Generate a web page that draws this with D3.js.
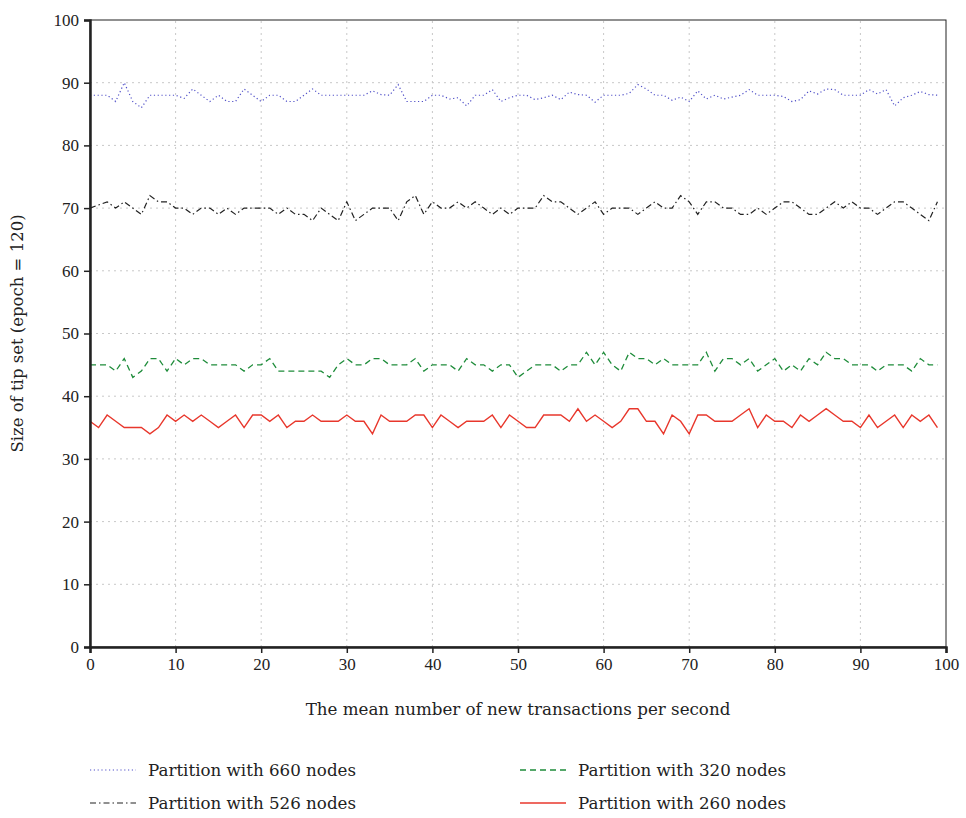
<!DOCTYPE html>
<html>
<head>
<meta charset="utf-8">
<script src="https://cdn.jsdelivr.net/npm/d3@7"></script>
<style>
  body { margin: 0; background: #fff; }
  svg text { font-family: "Liberation Serif", "DejaVu Serif", serif; fill: #222; }
  svg text.label { font-family: "DejaVu Serif", serif; }
  .grid line { stroke: #c8c8c8; stroke-dasharray: 2,4; stroke-width: 1; }
</style>
</head>
<body>
<svg class="chart"></svg>
<script>
// values, x = 0..99
const xTicks = [0, 10, 20, 30, 40, 50, 60, 70, 80, 90, 100];
const yTicks = [0, 10, 20, 30, 40, 50, 60, 70, 80, 90, 100];

const seriesNames = [
	"Partition with 660 nodes",
	"Partition with 526 nodes",
	"Partition with 320 nodes",
	"Partition with 260 nodes",
];

const nodes660 = [
	88, 88, 88, 87, 90, 87, 86, 88, 88, 88,
	88, 87.5, 89, 88, 87, 88, 87, 87, 89, 88,
	87, 88, 88, 87, 87, 88, 89, 88, 88, 88,
	88, 88, 88, 88.7, 88.1, 88, 89.7, 87, 87, 87,
	88, 88, 87.4, 87.6, 86.3, 88, 88, 88.9, 87, 87.6,
	88, 88, 87.3, 87.6, 88, 87.3, 88.5, 88.1, 88, 86.9,
	88, 88, 88, 88.3, 89.7, 89, 88, 88, 87.2, 87.7,
	87, 88.7, 87.4, 88, 87.4, 87.7, 88, 88.9, 88, 88,
	88, 87.8, 87, 87.3, 88.7, 88.2, 89, 88.9, 88, 88,
	88, 88.9, 88.2, 88.9, 86.3, 87.6, 88, 88.6, 88.1, 88,
];

const nodes526 = [
	70, 70.5, 71, 70, 71, 70, 69, 72, 71, 71,
	70, 70, 69, 70, 70, 69, 70, 69, 70, 70,
	70, 70, 69, 70, 69, 69, 68, 70, 69, 68,
	71, 68, 69, 70, 70, 70, 68, 71, 72, 69,
	71, 70, 70, 71, 70, 71, 70, 69, 70, 69,
	70, 70, 70, 72, 71, 71, 70, 69, 70, 71,
	69, 70, 70, 70, 69, 70, 71, 70, 70, 72,
	71, 69, 71, 71, 70, 70, 69, 69, 70, 69,
	70, 71, 71, 70, 69, 69, 70, 71, 70, 71,
	70, 70, 69, 70, 71, 71, 70, 69, 68, 71,
];

const nodes320 = [
	45, 45, 45, 44, 46, 43, 44, 46, 46, 44,
	46, 45, 46, 46, 45, 45, 45, 45, 44, 45,
	45, 46, 44, 44, 44, 44, 44, 44, 43, 45,
	46, 45, 45, 46, 46, 45, 45, 45, 46, 44,
	45, 45, 45, 44, 46, 45, 45, 44, 45, 45,
	43, 44, 45, 45, 45, 44, 45, 45, 47, 45,
	47, 45, 44, 47, 46, 46, 45, 46, 45, 45,
	45, 45, 47, 44, 46, 46, 45, 46, 44, 45,
	46, 44, 45, 44, 46, 45, 47, 46, 46, 45,
	45, 45, 44, 45, 45, 45, 44, 46, 45, 45,
];

const nodes260 = [
	36, 35, 37, 36, 35, 35, 35, 34, 35, 37,
	36, 37, 36, 37, 36, 35, 36, 37, 35, 37,
	37, 36, 37, 35, 36, 36, 37, 36, 36, 36,
	37, 36, 36, 34, 37, 36, 36, 36, 37, 37,
	35, 37, 36, 35, 36, 36, 36, 37, 35, 37,
	36, 35, 35, 37, 37, 37, 36, 38, 36, 37,
	36, 35, 36, 38, 38, 36, 36, 34, 37, 36,
	34, 37, 37, 36, 36, 36, 37, 38, 35, 37,
	36, 36, 35, 37, 36, 37, 38, 37, 36, 36,
	35, 37, 35, 36, 37, 35, 37, 36, 37, 35,
];

const svgSize = { w: 966, h: 818 };
const margin = { t: 20, r: 20, b: 171, l: 90 };

const svg = d3.select("svg.chart").attr("width", svgSize.w).attr("height", svgSize.h);
const g = svg.append("g");

const xScale = d3.scaleLinear().domain([0, 100]).range([margin.l, svgSize.w - margin.r]);
const yScale = d3.scaleLinear().domain([0, 100]).range([svgSize.h - margin.b, margin.t]);

// dotted grid
const grid = g.append("g").classed("grid", true);
grid.selectAll("line.v")
	.data(xTicks.slice(1, -1))
	.join("line")
	.attr("class", "v")
	.attr("x1", (d) => xScale(d))
	.attr("x2", (d) => xScale(d))
	.attr("y1", yScale(0))
	.attr("y2", yScale(100));
grid.selectAll("line.h")
	.data(yTicks.slice(1, -1))
	.join("line")
	.attr("class", "h")
	.attr("x1", xScale(0))
	.attr("x2", xScale(100))
	.attr("y1", (d) => yScale(d))
	.attr("y2", (d) => yScale(d));

// frame (top and right)
g.append("rect")
	.attr("x", xScale(0))
	.attr("y", yScale(100))
	.attr("width", xScale(100) - xScale(0))
	.attr("height", yScale(0) - yScale(100))
	.attr("fill", "none")
	.attr("stroke", "#222")
	.attr("stroke-width", 1);

const styles = [
	{ data: nodes660, color: "#5050c8", dash: "1.2,2.6", width: 1.2 },
	{ data: nodes526, color: "#222", dash: "6,3,1.5,3", width: 1.2 },
	{ data: nodes320, color: "#1e8c3a", dash: "6,4", width: 1.3 },
	{ data: nodes260, color: "#e8372c", dash: null, width: 1.4 },
];

const line = d3.line()
	.x((d, i) => xScale(i))
	.y((d) => yScale(d));

g.selectAll("path.series")
	.data(styles)
	.join("path")
	.attr("class", "series")
	.attr("d", (d) => line(d.data))
	.attr("fill", "none")
	.attr("stroke", (d) => d.color)
	.attr("stroke-width", (d) => d.width)
	.attr("stroke-dasharray", (d) => d.dash);

// axes
const xAxis = g.append("g")
	.attr("transform", `translate(0,${yScale(0)})`)
	.call(d3.axisBottom(xScale).tickValues(xTicks).tickSize(6).tickPadding(5));
const yAxis = g.append("g")
	.attr("transform", `translate(${xScale(0)},0)`)
	.call(d3.axisLeft(yScale).tickValues(yTicks).tickSize(6).tickPadding(5));

[xAxis, yAxis].forEach((ax) => {
	ax.select(".domain").attr("stroke", "#222").attr("stroke-width", 2.5);
	ax.selectAll(".tick line").attr("stroke", "#222").attr("stroke-width", 1.5);
	ax.selectAll(".tick text").style("font-size", "17px").attr("fill", "#222");
});

g.append("text")
	.attr("class", "label")
	.attr("x", (xScale(0) + xScale(100)) / 2)
	.attr("y", 715)
	.attr("text-anchor", "middle")
	.style("font-size", "16.7px")
	.text("The mean number of new transactions per second");

g.append("text")
	.attr("class", "label")
	.attr("transform", `translate(23,${(yScale(0) + yScale(100)) / 2}) rotate(-90)`)
	.attr("text-anchor", "middle")
	.style("font-size", "16.5px")
	.text("Size of tip set (epoch = 120)");

// legend
const legendPos = [
	{ x: 90, y: 770 },
	{ x: 90, y: 803 },
	{ x: 520, y: 770 },
	{ x: 520, y: 803 },
];
const legend = g.selectAll("g.legend")
	.data(styles)
	.join("g")
	.attr("class", "legend")
	.attr("transform", (d, i) => `translate(${legendPos[i].x},${legendPos[i].y})`);
legend.append("line")
	.attr("x1", 0)
	.attr("x2", 46)
	.attr("stroke", (d) => d.color)
	.attr("stroke-width", (d) => d.width)
	.attr("stroke-dasharray", (d) => d.dash);
legend.append("text")
	.attr("class", "label")
	.attr("x", 58)
	.attr("dy", "0.35em")
	.style("font-size", "16.7px")
	.text((d, i) => seriesNames[i]);
</script>
</body>
</html>
